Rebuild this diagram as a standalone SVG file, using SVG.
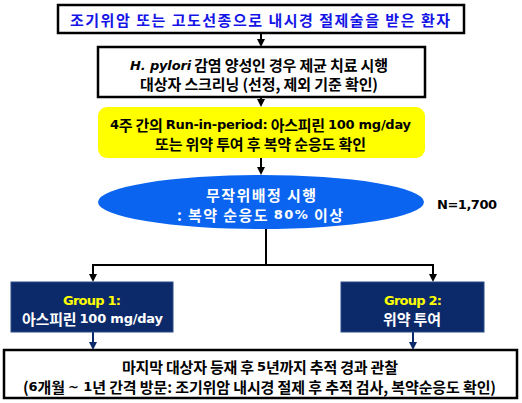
<svg xmlns="http://www.w3.org/2000/svg" width="522" height="403" viewBox="0 0 522 403">
<style>
text{font-family:"Noto Sans CJK KR","DejaVu Sans",sans-serif;font-weight:bold;font-size:15px;text-anchor:middle;dominant-baseline:central}
.l{font-family:"DejaVu Sans","Noto Sans CJK KR",sans-serif;font-size:13px}
.box{fill:#fff;stroke:#000;stroke-width:2.5}
.navy{fill:#0c2a6a;stroke:#2a4a8a;stroke-width:1}
.c{stroke:#000;stroke-width:2;fill:none}
.cn{stroke:#0c2a6a;stroke-width:2;fill:none}
</style>
<defs>
<marker id="ah" markerWidth="8" markerHeight="8" refX="4" refY="4" orient="auto" markerUnits="userSpaceOnUse"><path d="M0,0 L8,4 L0,8 z" fill="#000"/></marker>
<marker id="ahn" markerWidth="8" markerHeight="8" refX="4" refY="4" orient="auto" markerUnits="userSpaceOnUse"><path d="M0,0 L8,4 L0,8 z" fill="#0c2a6a"/></marker>
</defs>
<g id="connectors">
<path class="c" d="M261,33 V43" marker-end="url(#ah)"/>
<path class="c" d="M261,97 V103" marker-end="url(#ah)"/>
<path class="c" d="M261,158 V171" marker-end="url(#ah)"/>
<path class="c" d="M266,229 V265"/>
<path class="c" d="M92,265 H434"/>
<path class="c" d="M93,265 V278" marker-end="url(#ah)"/>
<path class="c" d="M433,265 V278" marker-end="url(#ah)"/>
<path class="cn" d="M93,332 V346" marker-end="url(#ahn)"/>
<path class="cn" d="M413,332 V346" marker-end="url(#ahn)"/>
</g>
<g id="n1">
<rect class="box" x="58" y="5" width="406" height="28"/>
<text x="260" y="19" fill="#1414e6" font-size="16.5" textLength="380" lengthAdjust="spacing">조기위암 또는 고도선종으로 내시경 절제술을 받은 환자</text>
</g>
<g id="n2">
<rect class="box" x="98" y="47" width="327" height="50"/>
<text x="259" y="64.5" font-size="14" textLength="258" lengthAdjust="spacing"><tspan class="l" font-style="italic">H. pylori</tspan> 감염 양성인 경우 제균 치료 시행</text>
<text x="259" y="83.5" font-size="14" textLength="238" lengthAdjust="spacing">대상자 스크리닝 (선정, 제외 기준 확인)</text>
</g>
<g id="n3">
<rect x="98" y="107" width="327" height="51" rx="9" fill="#ffff00"/>
<text x="260.5" y="124" textLength="301" lengthAdjust="spacing"><tspan class="l">4</tspan>주 간의 <tspan class="l">Run-in-period:</tspan> 아스피린 <tspan class="l">100 mg/day</tspan></text>
<text x="260.5" y="143" textLength="211" lengthAdjust="spacing">또는 위약 투여 후 복약 순응도 확인</text>
</g>
<g id="n4">
<ellipse cx="261" cy="202" rx="163" ry="27" fill="#0a64f0"/>
<text x="261" y="194" fill="#fff" font-size="16" textLength="110" lengthAdjust="spacing">무작위배정 시행</text>
<text x="260" y="214" fill="#fff" font-size="16" textLength="166" lengthAdjust="spacing">: 복약 순응도 <tspan class="l" font-size="14">80%</tspan> 이상</text>
</g>
<g id="n5">
<text class="l" x="467" y="204" textLength="60" lengthAdjust="spacing">N=1,700</text>
</g>
<g id="n6">
<rect class="navy" x="11" y="282" width="162" height="50"/>
<text class="l" x="92" y="300" fill="#ffff00" textLength="58" lengthAdjust="spacing">Group 1:</text>
<text x="92.5" y="318" fill="#fff" textLength="141" lengthAdjust="spacing">아스피린 <tspan class="l">100 mg/day</tspan></text>
</g>
<g id="n7">
<rect class="navy" x="341" y="282" width="143" height="50"/>
<text class="l" x="413" y="300" fill="#ffff00" textLength="58" lengthAdjust="spacing">Group 2:</text>
<text x="412" y="318" fill="#fff" textLength="58" lengthAdjust="spacing">위약 투여</text>
</g>
<g id="n8">
<rect class="box" x="4" y="350" width="513" height="48"/>
<text x="260" y="366" textLength="276" lengthAdjust="spacing">마지막 대상자 등재 후 <tspan class="l">5</tspan>년까지 추적 경과 관찰</text>
<text x="259.5" y="386" textLength="473" lengthAdjust="spacing">(<tspan class="l">6</tspan>개월 <tspan class="l">~ 1</tspan>년 간격 방문: 조기위암 내시경 절제 후 추적 검사, 복약순응도 확인)</text>
</g>
</svg>
